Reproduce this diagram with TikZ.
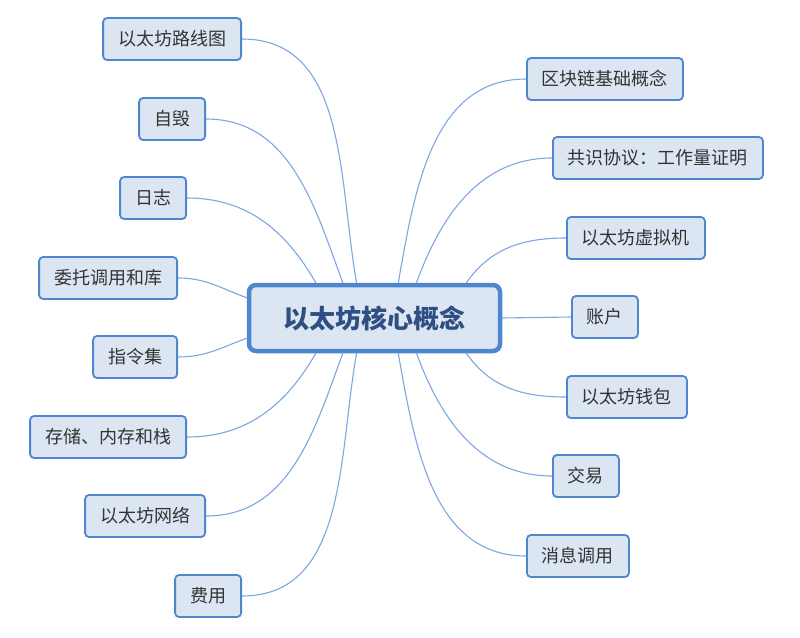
\documentclass[tikz,border=0pt]{standalone}
\usepackage{fontspec}
\setmainfont{Noto Sans CJK SC}
\usepackage{tikz}
\usetikzlibrary{positioning,backgrounds}
\definecolor{edgeblue}{HTML}{4F86D0}
\definecolor{boxfill}{HTML}{DCE6F2}
\definecolor{linkblue}{HTML}{7EA6E0}
\definecolor{leaftext}{HTML}{333333}
\definecolor{coretext}{HTML}{2E4F82}
\tikzset{
  core/.style = {rectangle, rounded corners=7pt, draw=edgeblue, fill=boxfill, line width=4.5pt,
                 minimum width=251pt, minimum height=66pt, text=coretext,
                 font=\fontsize{26}{31}\selectfont\bfseries},
  leaf/.style = {rectangle, rounded corners=4pt, draw=edgeblue, fill=boxfill, line width=1.8pt,
                 minimum height=42pt, inner xsep=15pt, text=leaftext,
                 font=\fontsize{18}{22}\selectfont},
  link/.style = {draw=linkblue, line width=1.1pt},
}
\begin{document}
\begin{tikzpicture}[x=1pt, y=1pt]
  \useasboundingbox (0,0) rectangle (800,-637);

  \node[core] (hub) at (374.5,-318) {以太坊核心概念};

  % left side
  \node[leaf, anchor=east] (roadmap)  at (242,-39)  {以太坊路线图};
  \node[leaf, anchor=east] (selfkill) at (206,-119) {自毁};
  \node[leaf, anchor=east] (logs)     at (187,-198) {日志};
  \node[leaf, anchor=east] (delegate) at (178,-278) {委托调用和库};
  \node[leaf, anchor=east] (opcodes)  at (178,-357) {指令集};
  \node[leaf, anchor=east] (storage)  at (187,-437) {存储、内存和栈};
  \node[leaf, anchor=east] (network)  at (206,-516) {以太坊网络};
  \node[leaf, anchor=east] (fees)     at (242,-596) {费用};

  % right side
  \node[leaf, anchor=west] (basics)    at (526,-79)  {区块链基础概念};
  \node[leaf, anchor=west] (consensus) at (552,-158) {共识协议：工作量证明};
  \node[leaf, anchor=west] (evm)       at (566,-238) {以太坊虚拟机};
  \node[leaf, anchor=west] (accounts)  at (571,-317) {账户};
  \node[leaf, anchor=west] (wallet)    at (566,-397) {以太坊钱包};
  \node[leaf, anchor=west] (tx)        at (552,-476) {交易};
  \node[leaf, anchor=west] (msgcall)   at (526,-556) {消息调用};

  \begin{scope}[on background layer]
    \draw[link] (hub.117) to[out=100, in=0] (roadmap.east);
    \draw[link] (hub.132) to[out=110, in=0] (selfkill.east);
    \draw[link] (hub.149) to[out=120, in=0] (logs.east);
    \draw[link] (hub.171) to[out=160, in=0] (delegate.east);
    \draw[link] (hub.189) to[out=200, in=0] (opcodes.east);
    \draw[link] (hub.211) to[out=240, in=0] (storage.east);
    \draw[link] (hub.228) to[out=250, in=0] (network.east);
    \draw[link] (hub.243) to[out=260, in=0] (fees.east);

    \draw[link] (hub.56)  to[out=80,  in=180] (basics.west);
    \draw[link] (hub.40)  to[out=70,  in=180] (consensus.west);
    \draw[link] (hub.21)  to[out=55,  in=180] (evm.west);
    \draw[link] (hub.east) -- (accounts.west);
    \draw[link] (hub.-21) to[out=-55, in=180] (wallet.west);
    \draw[link] (hub.-40) to[out=-70, in=180] (tx.west);
    \draw[link] (hub.-56) to[out=-80, in=180] (msgcall.west);
  \end{scope}
\end{tikzpicture}
\end{document}
